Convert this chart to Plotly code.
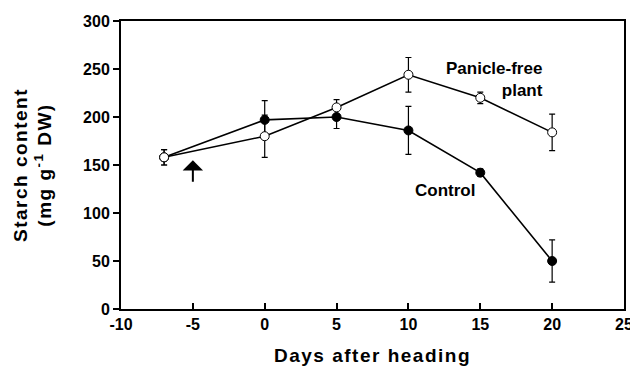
import plotly.graph_objects as go

days = [-7, 0, 5, 10, 15, 20]
control = [158, 197, 200, 186, 142, 50]
control_err = [8, 20, 12, 25, 4, 22]
panicle_free = [158, 180, 210, 244, 220, 184]
panicle_free_err = [8, 22, 8, 18, 6, 19]
x_ticks = [-10, -5, 0, 5, 10, 15, 20, 25]
y_ticks = [0, 50, 100, 150, 200, 250, 300]

FONT = "Liberation Sans, Arial, sans-serif"
LS = "letter-spacing:1.5px"

fig = go.Figure()
fig.add_trace(go.Scatter(
    x=days, y=control, mode="lines+markers", name="Control",
    line=dict(color="black", width=1.6),
    marker=dict(symbol="circle", size=9, color="black", line=dict(color="black", width=1)),
    error_y=dict(type="data", array=control_err, color="black", thickness=1.2, width=3),
))
fig.add_trace(go.Scatter(
    x=days, y=panicle_free, mode="lines+markers", name="Panicle-free plant",
    line=dict(color="black", width=1.6),
    marker=dict(symbol="circle", size=9, color="white", line=dict(color="black", width=1)),
    error_y=dict(type="data", array=panicle_free_err, color="black", thickness=1.2, width=3),
))

fig.add_annotation(x=-5, y=155, ax=-5, ay=131, xref="x", yref="y", axref="x", ayref="y",
                   showarrow=True, arrowhead=1, arrowsize=1.7, arrowwidth=2, arrowcolor="black", text="")
fig.add_annotation(x=19.5, y=239, xref="x", yref="y", text="<b>Panicle-free<br>plant</b>",
                   showarrow=False, xanchor="right", align="right",
                   font=dict(family=FONT, size=17, color="black"))
fig.add_annotation(x=12.55, y=123, xref="x", yref="y", text="<b>Control</b>",
                   showarrow=False, font=dict(family=FONT, size=17, color="black"))

fig.update_layout(
    width=630, height=368, showlegend=False,
    paper_bgcolor="white", plot_bgcolor="white",
    margin=dict(l=121, r=6, t=21, b=59, autoexpand=False),
    font=dict(family=FONT, color="black"),
)
fig.update_xaxes(
    range=[-10, 25], tickvals=x_ticks, ticktext=[f"<b>{v}</b>" for v in x_ticks],
    ticks="inside", ticklen=6, tickwidth=1.5, tickcolor="black", ticklabeloverflow="allow",
    showline=True, linecolor="black", linewidth=2, mirror=True, showgrid=False, zeroline=False,
    tickfont=dict(family=FONT, size=16, color="black"), automargin=False,
    title=dict(text=f"<span style='{LS}'><b>Days after heading</b></span>",
               font=dict(family=FONT, size=19, color="black"), standoff=16),
)
fig.update_yaxes(
    range=[0, 300], tickvals=y_ticks, ticktext=[f"<b>{v}</b>" for v in y_ticks],
    ticks="outside", ticklen=6, tickwidth=1.5, tickcolor="black", ticklabeloverflow="allow",
    showline=True, linecolor="black", linewidth=2, mirror=True, showgrid=False, zeroline=False,
    tickfont=dict(family=FONT, size=16, color="black"), automargin=False,
    title=dict(text=f"<span style='{LS}'><b>Starch content<br>(mg g<sup>-1</sup> DW)</b></span>",
               font=dict(family=FONT, size=19, color="black"), standoff=26),
)

fig.write_html("out.html", config={"displayModeBar": False},
               post_script="document.body.style.margin='0';document.body.style.overflow='hidden';")
